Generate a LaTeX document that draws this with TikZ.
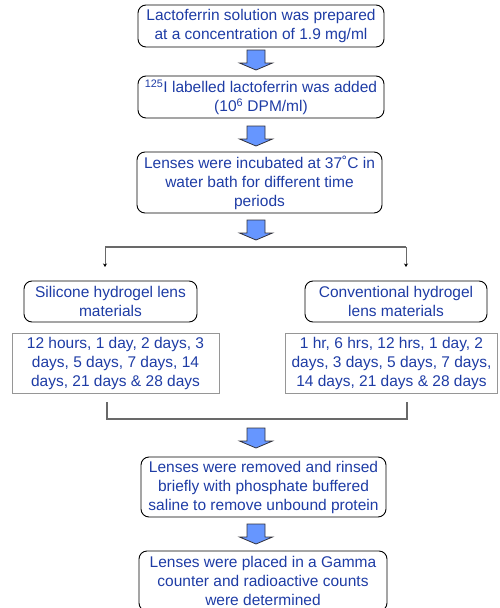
\documentclass[tikz,border=0pt]{standalone}
\usepackage{fontspec}
\setmainfont{Liberation Sans}
\usetikzlibrary{arrows.meta}
\definecolor{txtblue}{RGB}{30,60,165}
\definecolor{arrfill}{RGB}{102,150,255}
\definecolor{arrdraw}{RGB}{50,50,60}
\definecolor{rectgray}{RGB}{150,150,150}
\definecolor{conngray}{RGB}{105,105,105}
\tikzset{
  rbox/.style={draw=black, rounded corners=8pt, line width=0.9pt, text=txtblue,
    align=center, inner sep=0pt, font=\fontsize{15.5}{19}\selectfont},
  sbox/.style={draw=rectgray, line width=1pt, text=txtblue,
    align=center, inner sep=0pt, font=\fontsize{15.5}{19}\selectfont},
  conn/.style={draw=conngray, line width=1.3pt},
  thin conn/.style={draw=conngray, line width=1pt},
  tipconn/.style={-{Stealth[length=3.5pt,width=4pt,color=black]}},
  blockarr/.pic={
    \draw[fill=arrfill, draw=arrdraw, line width=0.8pt, line join=miter]
      (-9,0) -- (9,0) -- (9,13) -- (16.5,13) -- (0,20) -- (-16.5,13) -- (-9,13) -- cycle;
  }
}
\begin{document}
\begin{tikzpicture}[x=1pt,y=-1pt]
\useasboundingbox (0,0) rectangle (499,608);

\node[rbox, minimum width=246pt, minimum height=42pt] (b1) at (261,26)
  {Lactoferrin solution was prepared\\at a concentration of 1.9 mg/ml};
\node[rbox, minimum width=246pt, minimum height=42pt] (b2) at (261,97)
  {\textsuperscript{125}I labelled lactoferrin was added\\(10\textsuperscript{6} DPM/ml)};
\node[rbox, minimum width=245pt, minimum height=61pt] (b3) at (259.5,182.5)
  {Lenses were incubated at 37˚C in\\water bath for different time\\periods};
\node[rbox, minimum width=173pt, minimum height=41pt] (sil) at (110.5,301.5)
  {Silicone hydrogel lens\\materials};
\node[sbox, minimum width=207pt, minimum height=60pt] (silt) at (115.5,363)
  {12 hours, 1 day, 2 days, 3\\days, 5 days, 7 days, 14\\days, 21 days \& 28 days};
\node[rbox, minimum width=182pt, minimum height=41pt] (con) at (396,301.5)
  {Conventional hydrogel\\lens materials};
\node[sbox, minimum width=212pt, minimum height=60pt] (cont) at (391.5,363)
  {1 hr, 6 hrs, 12 hrs, 1 day, 2\\days, 3 days, 5 days, 7 days,\\14 days, 21 days \& 28 days};
\node[rbox, minimum width=245pt, minimum height=60pt] (b5) at (263.5,487)
  {Lenses were removed and rinsed\\briefly with phosphate buffered\\saline to remove unbound protein};
\node[rbox, minimum width=248pt, minimum height=60pt] (b6) at (263,581)
  {Lenses were placed in a Gamma\\counter and radioactive counts\\were determined};

% block arrows
\pic at (256,50) {blockarr};
\pic at (256,126) {blockarr};
\pic at (256,220) {blockarr};
\pic at (256,428) {blockarr};
\pic at (256,524) {blockarr};

% split connector
\coordinate (sl) at (105,247);
\coordinate (sr) at (406,247);
\coordinate (sle) at (105,267);
\coordinate (sre) at (406,267);
\draw[conn] (sl) -- (sr);
\draw[thin conn, tipconn] (sl) -- (sle);
\draw[thin conn, tipconn] (sr) -- (sre);

% merge connector
\coordinate (ml) at (107,402);
\coordinate (mr) at (407,402);
\draw[conn] (ml) |- (mr |- 0,419) -- (mr);
\end{tikzpicture}
\end{document}
